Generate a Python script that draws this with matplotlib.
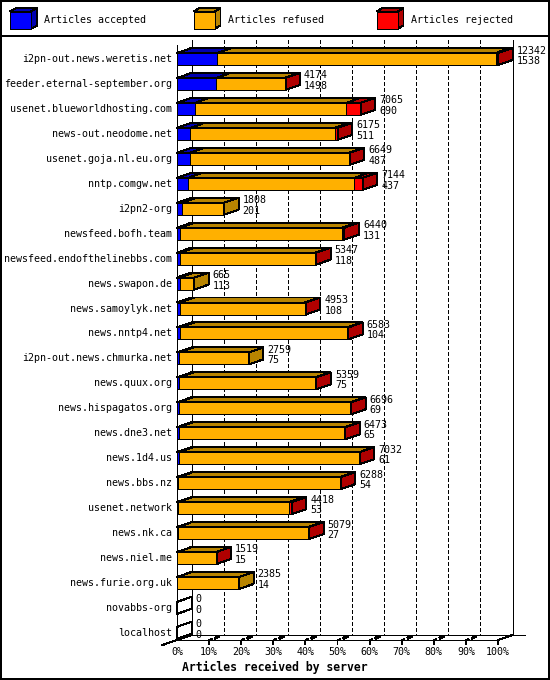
import matplotlib
matplotlib.use("Agg")
import matplotlib.pyplot as plt
from matplotlib.patches import Polygon, Rectangle

plt.rcParams["font.family"] = ["DejaVu Sans Mono", "DejaVu Sans"]

# data
servers = [
    "i2pn-out.news.weretis.net", "feeder.eternal-september.org",
    "usenet.blueworldhosting.com", "news-out.neodome.net",
    "usenet.goja.nl.eu.org", "nntp.comgw.net", "i2pn2-org",
    "newsfeed.bofh.team", "newsfeed.endofthelinebbs.com", "news.swapon.de",
    "news.samoylyk.net", "news.nntp4.net", "i2pn-out.news.chmurka.net",
    "news.quux.org", "news.hispagatos.org", "news.dne3.net", "news.1d4.us",
    "news.bbs.nz", "usenet.network", "news.nk.ca", "news.niel.me",
    "news.furie.org.uk", "novabbs-org", "localhost",
]
total = [12342, 4174, 7065, 6175, 6649, 7144, 1808, 6440, 5347, 665, 4953, 6583,
         2759, 5359, 6696, 6473, 7032, 6288, 4418, 5079, 1519, 2385, 0, 0]
accepted = [1538, 1498, 690, 511, 487, 437, 201, 131, 118, 113, 108, 104,
            75, 75, 69, 65, 61, 54, 53, 27, 15, 14, 0, 0]
rejected = [90, 30, 565, 115, 40, 320, 0, 90, 40, 0, 35, 40,
            0, 30, 30, 30, 30, 30, 115, 25, 20, 0, 0, 0]
refused = [t - a - r for t, a, r in zip(total, accepted, rejected)]

series_names = ["Articles accepted", "Articles refused", "Articles rejected"]
front_colors = ["#0000ff", "#ffb000", "#ff0000"]
dark_colors = ["#0000b0", "#b88400", "#b00000"]
x_ticks = [0, 10, 20, 30, 40, 50, 60, 70, 80, 90, 100]
x_tick_labels = [f"{t}%" for t in x_ticks]
x_title = "Articles received by server"

W, H = 550, 680
PX_X = 100 / 321.0      # percent per pixel
PX_Y = 1 / 24.95        # rows per pixel
DX = 14.5 * PX_X        # 3d depth in x
DY = 5 * PX_Y           # 3d depth in y
HALF = 6 * PX_Y         # half bar height
LW = 0.72
FS = 7.2


def poly(ax, pts, face, z=3):
    ax.add_patch(Polygon(pts, closed=True, facecolor=face, edgecolor="black",
                         linewidth=LW, antialiased=False, zorder=z,
                         clip_on=False))


def line(ax, xs, ys, lw=LW, ls="-", z=2):
    ax.plot(xs, ys, color="black", linewidth=lw, linestyle=ls,
            antialiased=False, zorder=z, clip_on=False)


def draw_chart():
    fig = plt.figure(figsize=(W / 100, H / 100), dpi=100)

    # frame, separator and legend in figure pixels
    lax = fig.add_axes([0, 0, 1, 1])
    lax.set_xlim(0, W)
    lax.set_ylim(H, 0)
    lax.axis("off")
    lax.add_patch(Rectangle((0.5, 0.5), W - 1.5, H - 1.5, fill=False,
                            edgecolor="black", linewidth=1.4, antialiased=False))
    line(lax, [0, W], [36, 36], lw=1.4)
    for x0, name, fc, dc in zip([10, 193.5, 376.5], series_names,
                                front_colors, dark_colors):
        top, bot, w = 11.5, 29, 21
        poly(lax, [(x0, top), (x0 + w, top), (x0 + w + 6, top - 3.5),
                   (x0 + 6, top - 3.5)], dc)
        poly(lax, [(x0 + w, top), (x0 + w + 6, top - 3.5),
                   (x0 + w + 6, bot - 3.5), (x0 + w, bot)], dc)
        poly(lax, [(x0, top), (x0 + w, top), (x0 + w, bot), (x0, bot)], fc)
        lax.text(x0 + 34.5, 20, name, fontsize=FS, va="center", ha="left")

    # plot area: x in percent of the largest total, y in rows
    ax = fig.add_axes([177 / W, 1 - 640 / H, 321 / W, 600 / H])
    y_top = (40 - 59) * PX_Y
    y_floor = (640 - 59) * PX_Y
    ax.set_xlim(0, 100)
    ax.set_ylim(y_floor, y_top)
    ax.axis("off")

    y_back = y_floor - DY
    # back wall gridlines
    for t in x_ticks[1:-1]:
        line(ax, [t + DX, t + DX], [y_top, y_back], ls=(0, (3.6, 2.9)), z=1)
    line(ax, [DX, DX], [y_top, y_back], z=1)
    line(ax, [100 + DX, 100 + DX], [y_top, y_back], z=1)
    line(ax, [0, 0], [y_top + DY, y_floor], z=1)
    # floor
    line(ax, [DX, 100 + DX + 4], [y_back, y_back], z=1)
    line(ax, [0, 100], [y_floor, y_floor], z=1)
    line(ax, [-DX, DX], [y_floor + DY, y_back], z=1)
    line(ax, [100, 100 + DX], [y_floor, y_back], z=1)
    for t, lab in zip(x_ticks, x_tick_labels):
        if t > 0:
            line(ax, [t, t, t + 2.5 * PX_X],
                 [y_floor + 4 * PX_Y, y_floor + 0.5 * PX_Y, y_floor - 1 * PX_Y],
                 z=1)
        if 0 < t < 100:
            line(ax, [t + 6.5 * PX_X, t + 9.5 * PX_X],
                 [y_floor - 2 * PX_Y, y_floor - 3.5 * PX_Y], lw=1.5, z=1)
        ax.text(t, y_floor + 12 * PX_Y, lab, fontsize=FS,
                ha="center", va="center")

    biggest = max(total)
    for i, name in enumerate(servers):
        yc = i
        top, bot = yc - HALF, yc + HALF
        parts = [accepted[i], refused[i], rejected[i]]
        start = 0.0
        last = None
        for k, v in enumerate(parts):
            if v <= 0:
                continue
            w = v / biggest * 100
            x0, x1 = start, start + w
            poly(ax, [(x0, top), (x1, top), (x1 + DX, top - DY),
                      (x0 + DX, top - DY)], dark_colors[k])
            poly(ax, [(x0, top), (x1, top), (x1, bot), (x0, bot)],
                 front_colors[k])
            start = x1
            last = k
        side = dark_colors[last] if last is not None else "none"
        poly(ax, [(start, top), (start + DX, top - DY),
                  (start + DX, bot - DY), (start, bot)], side)
        if last is None:
            line(ax, [0, DX], [top, top - DY], z=3)

        ax.text(-5 * PX_X, yc, name, fontsize=FS, ha="right", va="center")
        xl = start + DX + 4 * PX_X
        ax.text(xl, yc - 8.5 * PX_Y, str(total[i]), fontsize=FS,
                ha="left", va="center")
        ax.text(xl, yc + 2 * PX_Y, str(accepted[i]), fontsize=FS,
                ha="left", va="center")

    fig.text(0.5, 1 - 667 / H, x_title, fontsize=8.3, fontweight="bold",
             ha="center", va="center")

    fig.savefig("out.png", dpi=100)
    return "out.png"


if __name__ == "__main__":
    draw_chart()
